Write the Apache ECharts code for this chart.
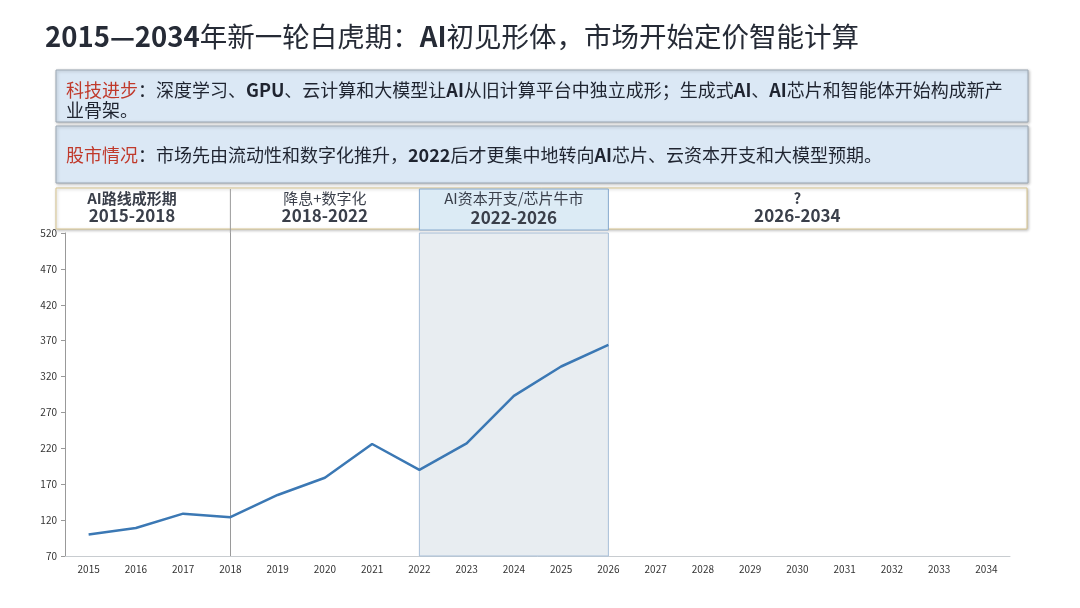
<!DOCTYPE html>
<html>
<head>
<meta charset="utf-8">
<script src="https://cdn.jsdelivr.net/npm/echarts@6/dist/echarts.min.js"></script>
<style>
  html, body { margin: 0; padding: 0; background: #fff; }
  #main { width: 1080px; height: 608px; }
</style>
</head>
<body>
<div id="main"></div>
<script>
var years = ['2015', '2016', '2017', '2018', '2019', '2020', '2021', '2022', '2023', '2024',
    '2025', '2026', '2027', '2028', '2029', '2030', '2031', '2032', '2033', '2034'];
var indexValues = [100, 109, 129, 124, 155, 179, 226, 190, 227, 293, 334, 364];
var periodNames = ['AI路线成形期', '降息+数字化', 'AI资本开支/芯片牛市', '?'];
var periodYears = ['2015-2018', '2018-2022', '2022-2026', '2026-2034'];
var periodEdges = ['2015', '2018', '2022', '2026', '2034'];

var font = '"Noto Sans CJK SC", "Noto Sans", sans-serif';
var myChart = echarts.init(document.getElementById('main'));

var option = {
    backgroundColor: '#fff',
    animation: false,
    grid: { left: 65, right: 70, top: 233, bottom: 52 },
    xAxis: {
        type: 'category',
        data: years,
        boundaryGap: true,
        axisLine: { lineStyle: { color: '#c8ccd0' } },
        axisTick: { show: false },
        axisLabel: { color: '#333', fontSize: 10, fontFamily: font, margin: 8, interval: 0 }
    },
    yAxis: {
        type: 'value',
        min: 70,
        max: 520,
        interval: 50,
        splitLine: { show: false },
        axisLine: { show: true, lineStyle: { color: '#999' } },
        axisTick: { show: true, length: 4, lineStyle: { color: '#999' } },
        axisLabel: { color: '#333', fontSize: 10, fontFamily: font }
    },
    series: [{
        type: 'line',
        data: indexValues,
        symbol: 'none',
        lineStyle: { color: '#3b78b4', width: 2.5 },
        z: 5,
        markArea: {
            silent: true,
            itemStyle: { color: '#e8edf1', borderColor: '#a8bfd8', borderWidth: 1 },
            data: [[{ xAxis: '2022' }, { xAxis: '2026' }]]
        },
        markLine: {
            silent: true,
            symbol: 'none',
            label: { show: false },
            lineStyle: { color: '#9a9a9a', width: 1, type: 'solid' },
            data: [{ xAxis: '2018' }]
        }
    }]
};
myChart.setOption(option);

// header band positions follow the category axis
var px = periodEdges.map(function (y) {
    return myChart.convertToPixel({ xAxisIndex: 0 }, y);
});

var boxShadow = { shadowBlur: 3, shadowColor: 'rgba(0,0,0,0.25)', shadowOffsetX: 1, shadowOffsetY: 1 };
var rich = {
    red: { fill: '#c0392b', fontSize: 18, fontFamily: font, lineHeight: 20 },
    n: { fill: '#1f2430', fontSize: 18, fontFamily: font, lineHeight: 20 },
    b: { fill: '#1f2430', fontSize: 18, fontFamily: font, fontWeight: 'bold', lineHeight: 20 }
};

var textCenters = [132, (px[1] + px[2]) / 2, (px[2] + px[3]) / 2, (px[3] + px[4]) / 2];
var headerTexts = [];
for (var i = 0; i < periodNames.length; i++) {
    headerTexts.push({
        type: 'text', z: 20,
        style: {
            x: textCenters[i], y: 198, text: periodNames[i], align: 'center', verticalAlign: 'middle',
            fill: '#3a3f4a', fontSize: 15, fontFamily: font, fontWeight: i === 0 || i === 3 ? 'bold' : 'normal'
        }
    });
    headerTexts.push({
        type: 'text', z: 20,
        style: {
            x: textCenters[i], y: i === 2 ? 218 : 216, text: periodYears[i], align: 'center', verticalAlign: 'middle',
            fill: '#3a3f4a', fontSize: 17, fontFamily: font, fontWeight: 'bold'
        }
    });
}

myChart.setOption({
    graphic: [
        {
            type: 'text', z: 20,
            style: {
                x: 45, y: 37, verticalAlign: 'middle',
                text: '{b|2015—2034}{n|年新一轮白虎期：}{b|AI}{n|初见形体，市场开始定价智能计算}',
                rich: {
                    b: { fill: '#262b36', fontSize: 27.5, fontFamily: font, fontWeight: 'bold' },
                    n: { fill: '#262b36', fontSize: 27.5, fontFamily: font }
                }
            }
        },
        {
            type: 'rect', z: 10,
            shape: { x: 56, y: 70, width: 972, height: 52 },
            style: Object.assign({ fill: '#dbe8f5', stroke: '#9ca8b4', lineWidth: 1 }, boxShadow)
        },
        {
            type: 'text', z: 20,
            style: {
                x: 66, y: 80,
                text: '{red|科技进步}{n|：深度学习、}{b|GPU}{n|、云计算和大模型让}{b|AI}{n|从旧计算平台中独立成形；生成式}{b|AI}{n|、}{b|AI}{n|芯片和智能体开始构成新产}\n{n|业骨架。}',
                rich: rich
            }
        },
        {
            type: 'rect', z: 10,
            shape: { x: 56, y: 126, width: 972, height: 57 },
            style: Object.assign({ fill: '#dbe8f5', stroke: '#9ca8b4', lineWidth: 1 }, boxShadow)
        },
        {
            type: 'text', z: 20,
            style: {
                x: 66, y: 155, verticalAlign: 'middle',
                text: '{red|股市情况}{n|：市场先由流动性和数字化推升，}{b|2022}{n|后才更集中地转向}{b|AI}{n|芯片、云资本开支和大模型预期。}',
                rich: rich
            }
        },
        {
            type: 'rect', z: 10,
            shape: { x: 56, y: 188, width: 971, height: 41 },
            style: Object.assign({ fill: '#ffffff', stroke: '#d8c58e', lineWidth: 1 }, boxShadow)
        },
        {
            type: 'rect', z: 12,
            shape: { x: px[2], y: 189, width: px[3] - px[2], height: 41 },
            style: { fill: '#dcebf5', stroke: '#86a8cc', lineWidth: 1 }
        },
        {
            type: 'line', z: 12,
            shape: { x1: px[1], y1: 189, x2: px[1], y2: 233 },
            style: { stroke: '#9a9a9a', lineWidth: 1 }
        }
    ].concat(headerTexts)
});
</script>
</body>
</html>
